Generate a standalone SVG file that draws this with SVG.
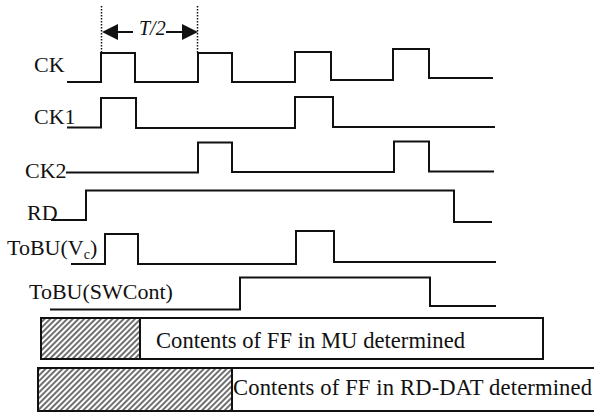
<svg xmlns="http://www.w3.org/2000/svg" width="594" height="412" viewBox="0 0 594 412">
<style>
.w{fill:none;stroke:#111;stroke-width:2;stroke-linejoin:miter;stroke-linecap:square}
.t{font-family:"Liberation Serif","Times New Roman",serif;font-size:22px;fill:#111}
.b{font-family:"Liberation Serif","Times New Roman",serif;font-size:22.6px;fill:#111}
.box{stroke:#111;stroke-width:2}
.dot{stroke:#111;stroke-width:1.5;stroke-dasharray:1.5 1.5}
.dim{stroke:#111;stroke-width:2;fill:none}
</style>
<defs>
<marker id="ah" viewBox="0 0 16 16" refX="6" refY="8" markerWidth="16" markerHeight="16" markerUnits="userSpaceOnUse" orient="auto">
<path d="M0,0 L16,8 L0,16 z" fill="#111"/>
</marker>
<pattern id="hatch" width="4" height="4" patternUnits="userSpaceOnUse" patternTransform="rotate(45)">
<rect width="4" height="4" fill="#fff"/>
<line x1="1" y1="0" x2="1" y2="4" stroke="#111" stroke-width="1.2"/>
</pattern>
</defs>
<rect width="594" height="412" fill="#fff"/>

<g id="dimension">
<line class="dot" x1="101.5" y1="6" x2="101.5" y2="53"/>
<line class="dot" x1="197.5" y1="6" x2="197.5" y2="53"/>
<line class="dim" x1="133" y1="32" x2="112" y2="32" marker-end="url(#ah)"/>
<line class="dim" x1="166" y1="32" x2="188" y2="32" marker-end="url(#ah)"/>
<text x="139" y="35" font-family="Liberation Serif, Times New Roman, serif" font-size="20" font-style="italic" fill="#111">T/2</text>
</g>

<g id="CK">
<text class="t" x="34" y="72">CK</text>
<path class="w" d="M68,82 H101 V53 H135 V82 H198 V53 H232 V82 H295 V52 H331 V80 H393 V49 H429 V78 H492"/>
</g>

<g id="CK1">
<text class="t" x="34" y="124">CK1</text>
<path class="w" d="M68,127.5 H101 V98 H136 V128 H295 V97 H333 V127 H494"/>
</g>

<g id="CK2">
<text class="t" x="25" y="178">CK2</text>
<path class="w" d="M67,172.5 H198 V142.5 H232 V172 H394 V141.5 H429 V171.5 H493"/>
</g>

<g id="RD">
<text class="t" x="27" y="220">RD</text>
<path class="w" d="M52,220 H86 V190.5 H454 V222 H491"/>
</g>

<g id="ToBU_Vc">
<text class="t" x="7" y="255">ToBU(V<tspan font-size="14" dy="4">c</tspan><tspan dy="-4">)</tspan></text>
<path class="w" d="M72,264 H105 V234 H138 V264 H296 V231 H334 V262 H495"/>
</g>

<g id="ToBU_SWCont">
<text class="t" x="29" y="299">ToBU(SWCont)</text>
<path class="w" d="M51,309.5 H240 V277.5 H430 V306 H495"/>
</g>

<g id="MU">
<rect class="box" x="41" y="318" width="502" height="41" fill="#fff"/>
<rect class="box" x="41" y="318" width="99" height="41" fill="url(#hatch)"/>
<text class="b" x="156" y="348" textLength="309">Contents of FF in MU determined</text>
</g>

<g id="RD-DAT">
<rect class="box" x="38" y="368" width="600" height="43" fill="#fff"/>
<rect class="box" x="38" y="368" width="194" height="43" fill="url(#hatch)"/>
<text class="b" x="233" y="395" textLength="359">Contents of FF in RD-DAT determined</text>
</g>
</svg>
